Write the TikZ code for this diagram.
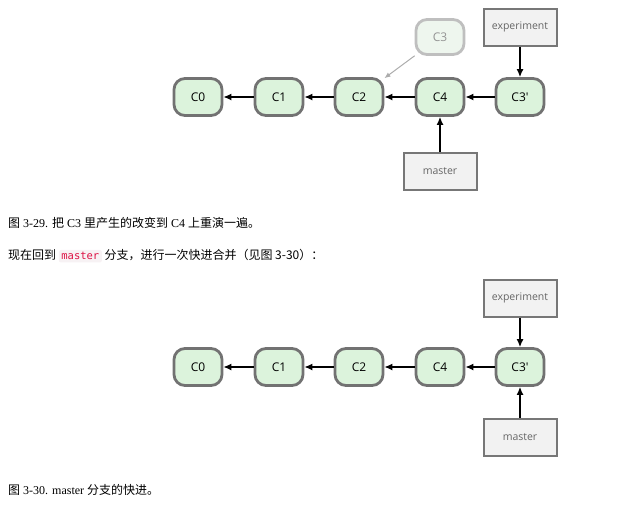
\documentclass[tikz,border=0pt]{standalone}
\usepackage{fontspec}
\setmainfont{Liberation Serif}
\newfontfamily\cjk{Noto Sans CJK SC}
\newfontfamily\lbl{Open Sans}
\newfontfamily\codefont{DejaVu Sans Mono}
\usetikzlibrary{arrows.meta}
\definecolor{commitfill}{HTML}{DCF3DC}
\definecolor{commitline}{HTML}{727272}
\definecolor{ghostfill}{HTML}{EEF6EE}
\definecolor{ghostline}{HTML}{BFBFBF}
\definecolor{boxfill}{HTML}{F2F2F2}
\definecolor{boxline}{HTML}{777777}
\definecolor{boxtext}{HTML}{666666}
\definecolor{codered}{HTML}{DD1144}
\definecolor{codebg}{HTML}{F7F2F4}
\newcommand{\zh}[1]{{\cjk #1}}
\begin{document}
\begin{tikzpicture}[x=1pt,y=-1pt,line width=.45pt,>={Latex[length=8pt,width=7pt]},
  commit/.style={draw=commitline,fill=commitfill,line width=2.8pt,rounded corners=11pt,
    minimum width=48pt,minimum height=37pt,inner sep=0pt,font=\lbl\fontsize{12}{14}\selectfont},
  ghost/.style={commit,draw=ghostline,fill=ghostfill,text=boxtext!70,minimum height=35pt},
  branchbox/.style={draw=boxline,fill=boxfill,line width=2pt,minimum width=73pt,
    minimum height=37pt,inner sep=0pt,text=boxtext,font=\lbl\fontsize{10.5}{12}\selectfont},
  link/.style={->,line width=1.3pt},
  caption/.style={anchor=west,inner sep=0pt,font=\fontsize{12}{14}\selectfont}]
\useasboundingbox (0,0) rectangle (628,509);
% before the fast-forward
\node[commit] (c0) at (198,97) {C0};
\node[commit] (c1) at (279,97) {C1};
\node[commit] (c2) at (359,97) {C2};
\node[commit] (c4) at (440,97) {C4};
\node[commit] (c5) at (520,97) {C3'};
\node[ghost] (g3) at (440,37) {C3};
\node[branchbox] (exp) at (520,27) {experiment};
\node[branchbox] (mst) at (440,171) {master};
\foreach \a/\b in {c1/c0,c2/c1,c4/c2,c5/c4,exp/c5,mst/c4}{\draw[link] (\a)--(\b);}
\draw[->,line width=1pt,draw=ghostline!90!black,>={Latex[length=6pt,width=5pt]}] (g3)--(c2);
% after the fast-forward
\node[commit] (d0) at (198,367) {C0};
\node[commit] (d1) at (279,367) {C1};
\node[commit] (d2) at (359,367) {C2};
\node[commit] (d4) at (440,367) {C4};
\node[commit] (d5) at (520,367) {C3'};
\node[branchbox] (exp2) at (520,298) {experiment};
\node[branchbox] (mst2) at (520,437) {master};
\foreach \a/\b in {d1/d0,d2/d1,d4/d2,d5/d4,exp2/d5,mst2/d5}{\draw[link] (\a)--(\b);}
% captions
\node[caption] (cap1) at (8,223) {\zh{图} 3-29. \zh{把} C3 \zh{里产生的改变到} C4 \zh{上重演一遍。}};
\node[caption,font=\cjk\fontsize{12}{14}\selectfont] (txt) at (8,256) {现在回到
  \tikz[baseline=(m.base)]\node[fill=codebg,rounded corners=2pt,inner sep=2.5pt,text=codered,
  font=\codefont\fontsize{10.5}{12}\selectfont] (m) {master};
  分支，进行一次快进合并（见图 3-30）：};
\node[caption] (cap2) at (8,490) {\zh{图} 3-30. master \zh{分支的快进。}};
\end{tikzpicture}
\end{document}
